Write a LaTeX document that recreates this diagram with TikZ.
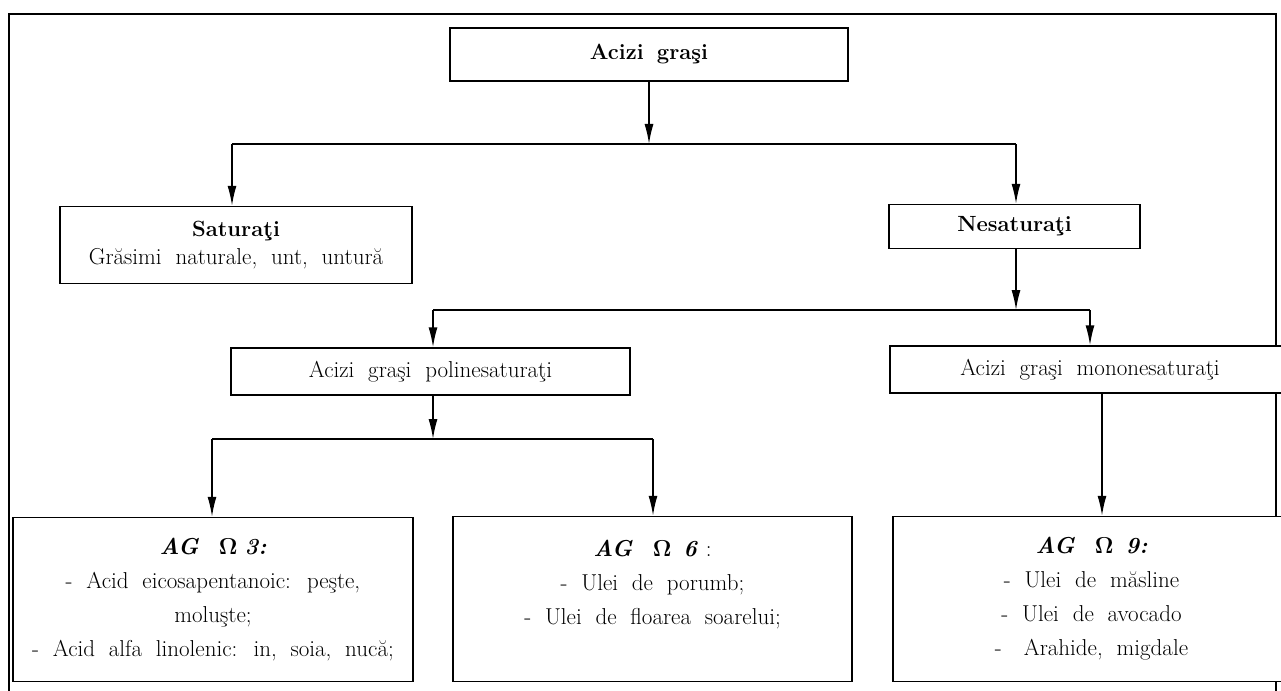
\documentclass[tikz,border=0pt]{standalone}
\usetikzlibrary{positioning, arrows.meta}
\newcommand\widewords{\spaceskip=.6em\relax}
\tikzset{box/.style={ % Sets the properties for each box
draw, fill=white,
line width=1.5pt,
align=center, inner sep=0pt,
font=\fontsize{23}{34}\selectfont,
execute at begin node=\widewords}, % wide word spacing as in the print
head/.style={ % Bold one-line boxes
box,
font=\fontsize{22}{34}\selectfont\bfseries},
link/.style={ % Sets the properties for each connector
draw, line width=1.5pt},
>={Latex[length=20pt,width=9pt]}} % Filled narrow arrow heads

\begin{document}
\begin{tikzpicture}[x=1pt, y=1pt]
    \useasboundingbox (0,0) rectangle (1281,-690);
    \clip (0,0) rectangle (1281,-690);
    \draw[link] (9,-700) -- (9,-14) -- (1276,-14) -- (1276,-700);

    \node[head, minimum width=398pt, minimum height=53pt] (fa) at (649,-54.5) {Acizi graşi};
    \node[box, minimum width=352pt, minimum height=77pt, below=124pt of fa, xshift=-413pt] (sat) {\textbf{\fontsize{22}{34}\selectfont Saturaţi}\\[-6pt] Grăsimi naturale, unt, untură};
    \node[head, minimum width=251pt, minimum height=44pt, below=122pt of fa, xshift=365.5pt] (nesat) {Nesaturaţi};
    \node[box, minimum width=399pt, minimum height=47pt, below=98pt of nesat, xshift=-584pt] (poli) {Acizi graşi polinesaturaţi};
    \node[box, minimum width=400pt, minimum height=47pt, below=96pt of nesat, xshift=75.5pt] (mono) {Acizi graşi mononesaturaţi};
    \node[box, minimum width=400pt, minimum height=164pt, below=121pt of poli, xshift=-217.5pt] (om3) {\textbf{\textit{AG}}\hspace{20pt}\textbf{Ω}\hspace{7pt}\textbf{\textit{3:}}\\ - Acid eicosapentanoic: peşte,\\ moluşte;\\ - Acid alfa linolenic: in, soia, nucă;};
    \node[box, minimum width=399pt, minimum height=165pt, below=120pt of poli, xshift=222pt] (om6) {\textbf{\textit{AG}}\hspace{20pt}\textbf{Ω}\hspace{12pt}\textbf{\textit{6}}\hspace{8pt}:\\ - Ulei de porumb;\\ - Ulei de floarea soarelui;\\ \mbox{}};
    \node[box, minimum width=397pt, minimum height=165pt, below=122pt of mono, xshift=1.5pt] (om9) {\textbf{\textit{AG}}\hspace{20pt}\textbf{Ω}\hspace{12pt}\textbf{\textit{9:}}\\ - Ulei de măsline\\ - Ulei de avocado\\ -\hspace{22pt}Arahide, migdale};

    \coordinate (s1l) at (232,-144);
    \coordinate (s1r) at (1016,-144);
    \coordinate (s2l) at (433,-310);
    \coordinate (s2r) at (1090,-310);
    \coordinate (s3l) at (212,-439);
    \coordinate (s3r) at (653,-439);

    \draw[link, ->] (fa.south) -- (fa.south |- s1l);
    \draw[link] (s1l) -- (s1r);
    \draw[link, ->] (s1l) -- (s1l |- sat.north);
    \draw[link, ->] (s1r) -- (s1r |- nesat.north);
    \draw[link, ->] (s1r |- nesat.south) -- (s1r |- s2l);
    \draw[link] (s2l) -- (s2r);
    \draw[link, ->] (s2l) -- (s2l |- poli.north);
    \draw[link, ->] (s2r) -- (s2r |- mono.north);
    \draw[link, ->] (s2l |- poli.south) -- (s2l |- s3l);
    \draw[link] (s3l) -- (s3r);
    \draw[link, ->] (s3l) -- (s3l |- om3.north);
    \draw[link, ->] (s3r) -- (s3r |- om6.north);
    \draw[link, ->] ([xshift=12pt]mono.south) -- ([xshift=12pt]mono.south |- om9.north);
\end{tikzpicture}
\end{document}
